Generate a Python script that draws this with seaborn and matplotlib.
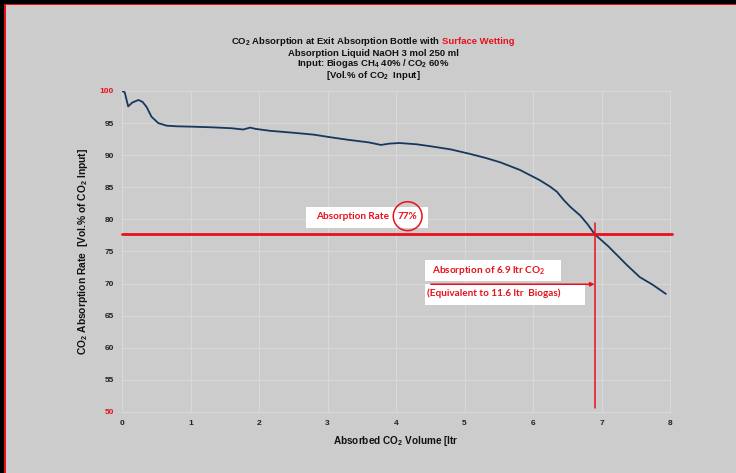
import matplotlib
matplotlib.use("Agg")
import matplotlib.pyplot as plt
from matplotlib.patches import Rectangle, Ellipse
import seaborn as sns
import pandas as pd

# Absorbed CO2 volume [ltr] and CO2 absorption rate [Vol.% of CO2 input]
volume = [0, 0.04, 0.09, 0.15, 0.24, 0.30, 0.36, 0.43, 0.53, 0.65, 0.8, 1.0,
          1.3, 1.6, 1.77, 1.87, 1.95, 2.16, 2.5, 2.8, 3.04, 3.3, 3.6, 3.78,
          3.9, 4.05, 4.3, 4.5, 4.8, 5.08, 5.3, 5.52, 5.81, 6.1, 6.25, 6.35,
          6.45, 6.55, 6.69, 6.8, 6.9, 7.1, 7.37, 7.56, 7.75, 7.94]
rate = [100, 99.8, 97.6, 98.2, 98.6, 98.3, 97.5, 96.0, 95.0, 94.6, 94.5, 94.45,
        94.35, 94.2, 94.0, 94.3, 94.1, 93.8, 93.5, 93.2, 92.8, 92.4, 92.0, 91.6,
        91.8, 91.9, 91.7, 91.4, 90.9, 90.2, 89.6, 88.9, 87.7, 86.1, 85.1, 84.3,
        83.0, 81.9, 80.6, 79.2, 77.7, 75.8, 72.9, 71.0, 69.8, 68.4]

x_ticks = [0, 1, 2, 3, 4, 5, 6, 7, 8]
y_ticks = [50, 55, 60, 65, 70, 75, 80, 85, 90, 95, 100]

absorption_rate = 77.7      # level of the horizontal marker line
absorbed_volume = 6.9       # position of the vertical marker line

BG = "#cccccc"
RED = "#e8111b"
NAVY = "#17375e"

sns.set_style("white")
plt.rcParams["font.family"] = ["Liberation Sans", "DejaVu Sans"]
plt.rcParams["mathtext.default"] = "regular"

W, H = 736, 473
fig = plt.figure(figsize=(W / 100, H / 100), dpi=100, facecolor=BG)
ax = fig.add_axes([122 / W, 1 - 412 / H, (670 - 122) / W, (412 - 91) / H])
ax.set_facecolor(BG)

df = pd.DataFrame({"volume": volume, "rate": rate})
sns.lineplot(data=df, x="volume", y="rate", ax=ax, color=NAVY, lw=1.3,
             zorder=4, legend=False)

ax.set_xlim(0, 8)
ax.set_ylim(50, 100)
ax.set_xticks(x_ticks)
ax.set_yticks(y_ticks)
ax.grid(True, color="#d9d9d9", lw=0.8)
ax.set_axisbelow(True)
for s in ax.spines.values():
    s.set_color("#d9d9d9")
    s.set_linewidth(0.8)
ax.tick_params(length=0, pad=6, labelsize=6, labelcolor="#222222")
for lbl in ax.get_xticklabels() + ax.get_yticklabels():
    lbl.set_fontweight("bold")
for lbl in ax.get_yticklabels():
    if lbl.get_text() in ("50", "100"):
        lbl.set_color(RED)

ax.set_xlabel("Absorbed CO$_2$ Volume [ltr", fontsize=7.2, fontweight="bold",
              color="#111111", labelpad=5)
ax.set_ylabel("CO$_2$ Absorption Rate  [Vol.% of CO$_2$ Input]", fontsize=7.4,
              fontweight="bold", color="#111111", labelpad=7)

# marker lines
ax.plot([0, 8.03], [absorption_rate, absorption_rate], color=RED, lw=2,
        clip_on=False, zorder=5)
ax.plot([absorbed_volume, absorbed_volume], [50.6, 79.4], color=RED, lw=1.1,
        zorder=5)

# annotation boxes
ax.add_patch(Rectangle((2.69, 78.6), 1.77, 3.4, fc="white", ec="none", zorder=3))
ax.add_patch(Rectangle((4.42, 70.4), 1.99, 3.3, fc="white", ec="none", zorder=3))
ax.add_patch(Rectangle((4.42, 66.7), 2.34, 3.3, fc="white", ec="none", zorder=3))

afont = dict(family=["Lato", "DejaVu Sans"], fontweight="bold", color=RED,
             fontsize=7.2, zorder=6, va="center")
ax.text(2.83, 80.5, "Absorption Rate", ha="left", **afont)
ax.text(4.17, 80.5, "77%", ha="center", **afont)
ax.add_patch(Ellipse((4.17, 80.5), 0.42, 4.5, fc="none", ec=RED, lw=1.1,
                     zorder=6))
ax.text(4.52, 72.1, "Absorption of 6.9 ltr CO$_2$", ha="left", **afont)
ax.text(4.45, 68.5, "(Equivalent to 11.6 ltr  Biogas)", ha="left", **afont)
ax.annotate("", xy=(absorbed_volume, 69.9), xytext=(4.51, 69.9),
            arrowprops=dict(arrowstyle="-|>", color=RED, lw=1.1,
                            mutation_scale=6, shrinkA=0, shrinkB=0),
            zorder=6)

# title block
tfont = dict(fontsize=6.8, fontweight="bold", color="#111111", va="center")
cx = 373 / W
line1_black = "CO$_2$ Absorption at Exit Absorption Bottle with "
line1_red = "Surface Wetting"
full = fig.text(cx, 1 - 42 / H, line1_black + line1_red, ha="center", alpha=0,
                **tfont)
fig.canvas.draw()
bb = full.get_window_extent()
full.remove()
fig.text(bb.x0 / W, 1 - 42 / H, line1_black, ha="left", **tfont)
fig.text(bb.x1 / W, 1 - 42 / H, line1_red, ha="right",
         **{**tfont, "color": RED})
fig.text(cx, 1 - 53 / H, "Absorption Liquid NaOH 3 mol 250 ml", ha="center",
         **tfont)
fig.text(cx, 1 - 64 / H, "Input: Biogas CH$_4$ 40% / CO$_2$ 60%", ha="center",
         **tfont)
fig.text(cx, 1 - 75.5 / H, "[Vol.% of CO$_2$  Input]", ha="center", **tfont)

# frame along the top and left edges
fig.patches.append(Rectangle((0, 1 - 4 / H), 1, 4 / H, transform=fig.transFigure,
                             fc="black", ec="none"))
fig.patches.append(Rectangle((0, 0), 4 / W, 1, transform=fig.transFigure,
                             fc="black", ec="none"))
fig.patches.append(Rectangle((4 / W, 1 - 5.5 / H), 1, 1.5 / H,
                             transform=fig.transFigure, fc=RED, ec="none"))
fig.patches.append(Rectangle((4 / W, 0), 1.5 / W, 1 - 4 / H,
                             transform=fig.transFigure, fc=RED, ec="none"))

fig.savefig("out.png", dpi=100, facecolor=BG)
